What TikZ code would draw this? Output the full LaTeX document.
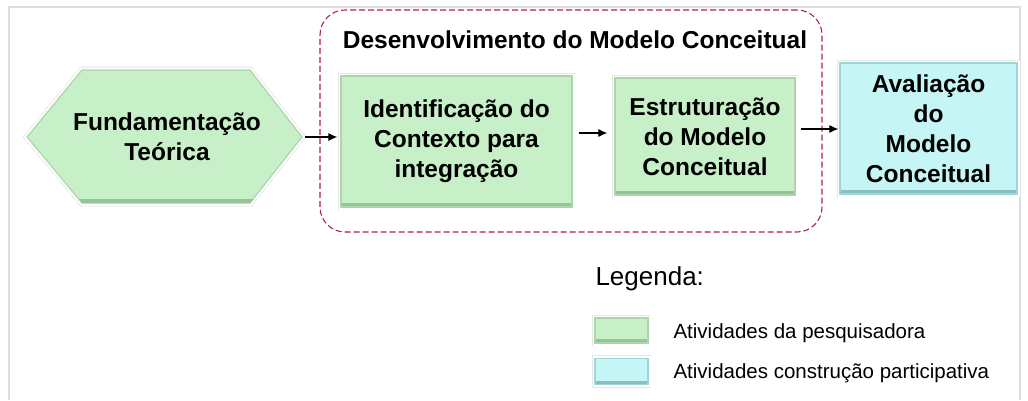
\documentclass[tikz,border=0pt]{standalone}
\usepackage{fontspec}
\setmainfont{Liberation Sans}
\usepackage{tikz}
\usepackage{xcolor}
\usetikzlibrary{arrows, arrows.meta, positioning, calc}
\definecolor{actgreen}{RGB}{200,240,200}
\definecolor{actgreendark}{RGB}{150,196,150}
\definecolor{actcyan}{RGB}{198,245,245}
\definecolor{actcyandark}{RGB}{135,192,192}
\definecolor{groupred}{RGB}{176,36,64}
\definecolor{framegray}{RGB}{222,222,222}
\definecolor{glowgray}{RGB}{230,230,230}

\begin{document}
\begin{tikzpicture}[
				x=1pt, y=-1pt,
				glow/.style={preaction={draw=glowgray, line width=0.8pt, double=white, double distance=5pt}},
				pesq/.style={rectangle, fill=actgreen, draw=actgreendark!60!actgreen, line width=1.2pt, glow, align=center, text centered,
					font=\fontsize{24.5}{30}\selectfont\bfseries,
					path picture={\fill[actgreendark] (path picture bounding box.south west) rectangle ([yshift=4pt]path picture bounding box.south east);}},
				partic/.style={pesq, fill=actcyan, draw=actcyandark!60!actcyan,
					path picture={\fill[actcyandark] (path picture bounding box.south west) rectangle ([yshift=4pt]path picture bounding box.south east);}},
				group/.style={rectangle, rounded corners=25pt, draw=groupred, dashed, dash pattern=on 6pt off 3pt, line width=1.1pt},
				legtext/.style={anchor=base west, font=\fontsize{20.5}{24}\selectfont},
				arrow/.style={-{Latex[length=9pt,width=8pt]},line width=1.1pt,color=black}
			]
			\useasboundingbox (0,0) rectangle (1028,400);

			% Frame
			\draw[framegray, line width=2pt] (9,400) -- (9,7) -- (1020,7) -- (1020,400);

			% Fundamentacao (hexagon)
			\path[fill=actgreen, draw=actgreendark!60!actgreen, line width=1.2pt, glow]
				(27,137) -- (82,70) -- (250,70) -- (302,137) -- (250,203) -- (82,203) -- cycle;
			\fill[actgreendark] (82,203) -- (250,203) -- (253,199) -- (79,199) -- cycle;
			\coordinate (fund_tip) at (302,137);
			\node (fund) [font=\fontsize{24.5}{30}\selectfont\bfseries, align=center] at (167,137) {Fundamenta\c{c}\~ao\\Te\'orica};

			% Desenvolvimento do Modelo Conceitual
			\node (devgroup) [group, minimum width=502pt, minimum height=222pt] at (571,121) {};
			\node (devtitle) [font=\fontsize{24.5}{30}\selectfont\bfseries] at (575,40) {Desenvolvimento do Modelo Conceitual};
			\node (ident) [pesq, minimum width=231pt, minimum height=131pt] at (456.5,141.5) {Identifica\c{c}\~ao do\\Contexto para\\integra\c{c}\~ao};
			\node (estrut) [pesq, minimum width=180pt, minimum height=117pt] at (705,136.5) {Estrutura\c{c}\~ao\\do Modelo\\Conceitual};

			% Avaliacao
			\node (aval) [partic, minimum width=177pt, minimum height=131pt] at (928.5,128.5) {Avalia\c{c}\~ao\\do\\Modelo\\Conceitual};

			% Flow arrows
			\coordinate (row_a) at (0,137);
			\coordinate (row_b) at (0,133);
			\coordinate (row_c) at (0,129);
			\draw [arrow, shorten <=3pt, shorten >=3pt] (fund_tip) -- (ident.west |- row_a);
			\draw [arrow, shorten <=6pt, shorten >=7pt] (ident.east |- row_b) -- (estrut.west |- row_b);
			\draw [arrow, shorten <=5pt, shorten >=1pt] (estrut.east |- row_c) -- (aval.west |- row_c);

			% Legend
			\node (legtitle) [anchor=base west, font=\fontsize{26}{30}\selectfont] at (592,285) {Legenda:};
			\node (leg_pesq) [pesq, minimum width=53pt, minimum height=25pt, inner sep=0pt] at (621.5,330.5) {};
			\node (leg_partic) [partic, minimum width=53pt, minimum height=26pt, inner sep=0pt] at (621.5,371.5) {};
			\node (legtext_pesq) [legtext] at (670,338) {Atividades da pesquisadora};
			\node (legtext_partic) [legtext] at (670,378) {Atividades constru\c{c}\~ao participativa};

		\end{tikzpicture}
\end{document}
